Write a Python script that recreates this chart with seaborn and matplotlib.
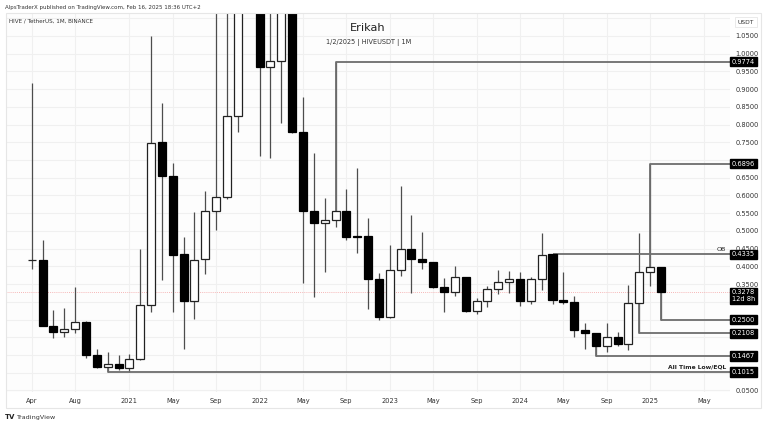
import numpy as np
import pandas as pd
import seaborn as sns
import matplotlib
matplotlib.use("Agg")
import matplotlib.pyplot as plt
from matplotlib.patches import Rectangle
import matplotlib.transforms as mtransforms

# ---------------- data ----------------
months = ["Apr20","May20","Jun20","Jul20","Aug20","Sep20","Oct20","Nov20","Dec20",
          "Jan21","Feb21","Mar21","Apr21","May21","Jun21","Jul21","Aug21","Sep21","Oct21","Nov21","Dec21",
          "Jan22","Feb22","Mar22","Apr22","May22","Jun22","Jul22","Aug22","Sep22","Oct22","Nov22","Dec22",
          "Jan23","Feb23","Mar23","Apr23","May23","Jun23","Jul23","Aug23","Sep23","Oct23","Nov23","Dec23",
          "Jan24","Feb24","Mar24","Apr24","May24","Jun24","Jul24","Aug24","Sep24","Oct24","Nov24","Dec24",
          "Jan25","Feb25"]
opens  = [0.418,0.418,0.233,0.216,0.223,0.242,0.151,0.116,0.124,
          0.113,0.139,0.291,0.750,0.655,0.434,0.302,0.420,0.556,0.595,0.825,1.900,
          1.450,0.962,0.980,1.250,0.778,0.556,0.522,0.530,0.557,0.486,0.486,0.365,
          0.256,0.389,0.448,0.421,0.412,0.343,0.327,0.370,0.275,0.302,0.337,0.355,
          0.363,0.302,0.364,0.4335,0.305,0.300,0.221,0.213,0.174,0.202,0.181,0.298,
          0.383,0.399]
highs  = [0.918,0.474,0.277,0.283,0.343,0.247,0.166,0.157,0.149,
          0.154,0.448,1.050,0.860,0.693,0.484,0.553,0.613,1.300,1.400,3.400,2.500,
          1.600,1.250,2.000,1.400,0.879,0.719,0.592,0.9774,0.618,0.677,0.536,0.382,
          0.460,0.627,0.545,0.498,0.412,0.366,0.402,0.370,0.310,0.345,0.390,0.387,
          0.383,0.371,0.495,0.4335,0.383,0.315,0.240,0.213,0.240,0.216,0.348,0.493,
          0.6896,0.399]
lows   = [0.393,0.232,0.199,0.202,0.213,0.141,0.113,0.1015,0.108,
          0.103,0.136,0.271,0.362,0.271,0.166,0.251,0.378,0.502,0.589,0.780,1.200,
          0.710,0.705,0.804,0.775,0.354,0.313,0.385,0.512,0.473,0.439,0.279,0.249,
          0.253,0.374,0.324,0.392,0.340,0.272,0.317,0.271,0.265,0.285,0.322,0.326,
          0.289,0.293,0.332,0.294,0.294,0.200,0.166,0.1467,0.158,0.176,0.164,0.2108,
          0.345,0.250]
closes = [0.418,0.233,0.216,0.223,0.242,0.150,0.116,0.125,0.113,
          0.138,0.291,0.749,0.655,0.432,0.302,0.418,0.556,0.595,0.824,1.900,1.450,
          0.962,0.980,1.250,0.778,0.556,0.522,0.530,0.557,0.483,0.483,0.365,0.256,
          0.389,0.448,0.421,0.412,0.343,0.327,0.370,0.275,0.302,0.337,0.355,0.363,
          0.302,0.364,0.433,0.305,0.300,0.221,0.213,0.174,0.202,0.181,0.298,0.383,
          0.399,0.3278]

time_tick_labels = ["Apr","Aug","2021","May","Sep","2022","May","Sep","2023","May","Sep",
                    "2024","May","Sep","2025","May"]
time_tick_months = ["Apr20","Aug20","Jan21","May21","Sep21","Jan22","May22","Sep22","Jan23",
                    "May23","Sep23","Jan24","May24","Sep24","Jan25","May25"]

price_ticks = [0.05,0.35,0.40,0.45,0.50,0.55,0.60,0.65,0.75,0.80,0.85,0.90,0.95,1.00,1.05]
grid_levels = [0.05,0.10,0.15,0.20,0.25,0.30,0.35,0.40,0.45,0.50,0.55,0.60,0.65,0.70,0.75,
               0.80,0.85,0.90,0.95,1.00,1.05,1.10]

# key levels: (value, anchor month, label text)
level_values = [0.9774, 0.6896, 0.4335, 0.2500, 0.2108, 0.1467, 0.1015]
level_months = ["Aug22", "Jan25", "Apr24", "Feb25", "Dec24", "Aug24", "Nov20"]
level_labels = ["0.9774", "0.6896", "0.4335", "0.2500", "0.2108", "0.1467", "0.1015"]
last_price = 0.3278
last_price_label = "0.3278\n12d 8h"

# ---------------- figure ----------------
sns.set_theme(style="white")
plt.rcParams["font.family"] = ["DejaVu Sans"]

df = pd.DataFrame({"month": months, "open": opens, "high": highs, "low": lows, "close": closes})
df["x"] = np.arange(len(df))
month_pos = {m: i for i, m in enumerate(months)}
month_pos["May25"] = len(months) + 3

W, H = 768, 426
fig = plt.figure(figsize=(W / 100, H / 100), dpi=100, facecolor="white")
L, R, T, B = 5.7, 730, 13.3, 392
ax = fig.add_axes([L / W, 1 - B / H, (R - L) / W, (B - T) / H])
ax.set_facecolor("#fdfdfd")

x0 = -2.40
x1 = 64.36
ax.set_xlim(x0, x1)
ax.set_ylim(0.0455, 1.114)

# grid
for g in grid_levels:
    ax.axhline(g, color="#f0f0f0", lw=0.8, zorder=0)
for m in time_tick_months:
    ax.axvline(month_pos[m], color="#f0f0f0", lw=0.8, zorder=0)

# current price line
ax.axhline(last_price, color="#f4a0a0", lw=0.6, ls=(0, (1, 1.5)), zorder=1)

# wicks
sns.despine(ax=ax, left=True, bottom=True, right=True, top=True)
ax.vlines(df["x"], df["low"], df["high"], color="#4d4d4d", lw=0.9, zorder=2)

# bodies
bw = 0.74
up = df[df["close"] >= df["open"]]
dn = df[df["close"] < df["open"]]
ax.bar(up["x"], np.maximum(up["close"] - up["open"], 0.0008), bottom=up["open"], width=bw,
       facecolor="white", edgecolor="#222222", linewidth=0.9, zorder=3)
ax.bar(dn["x"], dn["open"] - dn["close"], bottom=dn["close"], width=bw,
       facecolor="black", edgecolor="black", linewidth=0.9, zorder=3)

# key levels (elbow lines)
for val, m in zip(level_values, level_months):
    i = month_pos[m]
    o, c = opens[i], closes[i]
    if val > max(o, c):
        start = max(o, c)
    elif val < min(o, c):
        start = min(o, c)
    else:
        start = val
    ax.plot([i, i, x1], [start, val, val], color="#6e6e6e", lw=1.3, zorder=2.5,
            solid_capstyle="butt", clip_on=False)

# text annotations
ax.text(x1 - 0.35, 0.4335 + 0.008, "OB", ha="right", va="bottom", fontsize=4.6, color="#222222")
ax.text(x1 - 0.3, 0.1015 + 0.008, "All Time Low/EQL", ha="right", va="bottom", fontsize=4.3,
        fontweight="bold", color="#222222")

# axes ticks
ax.set_xticks([month_pos[m] for m in time_tick_months])
ax.set_xticklabels(time_tick_labels)
ax.yaxis.tick_right()
ax.set_yticks(price_ticks)
ax.set_yticklabels([f"{v:.4f}" for v in price_ticks])
ax.tick_params(axis="y", length=0, pad=4.0, labelsize=4.8, labelcolor="#333333")
ax.tick_params(axis="x", length=0, pad=4.5, labelsize=4.8, labelcolor="#333333")

# price boxes
trans = mtransforms.blended_transform_factory(ax.transAxes, ax.transData)
for val, lab in zip(level_values, level_labels):
    ax.text(1.0025, val, lab, transform=trans, ha="left", va="center", fontsize=4.8,
            color="white", bbox=dict(boxstyle="square,pad=0.25", fc="black", ec="black"),
            zorder=10, clip_on=False)
ax.text(1.0025, last_price - 0.011, last_price_label, transform=trans, ha="left", va="center",
        fontsize=4.8, color="white", linespacing=1.15,
        bbox=dict(boxstyle="square,pad=0.25", fc="black", ec="black"), zorder=10, clip_on=False)

# panel border
fig.patches.append(Rectangle((L / W, 1 - 408 / H), (761 - L) / W, (408 - T) / H,
                             transform=fig.transFigure, fill=False, ec="#e6e6e6", lw=0.8))

# header/title texts
fig.text(5 / W, 1 - 7 / H, "AlpsTraderX published on TradingView.com, Feb 16, 2025 18:36 UTC+2",
         fontsize=4.0, color="#333333", ha="left", va="center")
fig.text(9 / W, 1 - 21 / H, "HIVE / TetherUS, 1M, BINANCE", fontsize=4.1, color="#333333",
         ha="left", va="center")
fig.text(368 / W, 1 - 28 / H, "Erikah", fontsize=8.2, color="#222222", ha="center", va="center")
fig.text(369 / W, 1 - 42 / H, "1/2/2025 | HIVEUSDT | 1M", fontsize=4.7, color="#333333",
         ha="center", va="center")
fig.text(746 / W, 1 - 22 / H, "USDT", fontsize=4.3, color="#333333", ha="center", va="center",
         bbox=dict(boxstyle="square,pad=0.5", fc="white", ec="#e6e6e6", lw=0.6))
fig.text(5 / W, 1 - 417 / H, "TV", fontsize=5, fontweight="bold", color="#222222",
         ha="left", va="center")
fig.text(16 / W, 1 - 417 / H, "TradingView", fontsize=4.6, color="#333333",
         ha="left", va="center")

fig.savefig("out.png", dpi=100, facecolor="white")
